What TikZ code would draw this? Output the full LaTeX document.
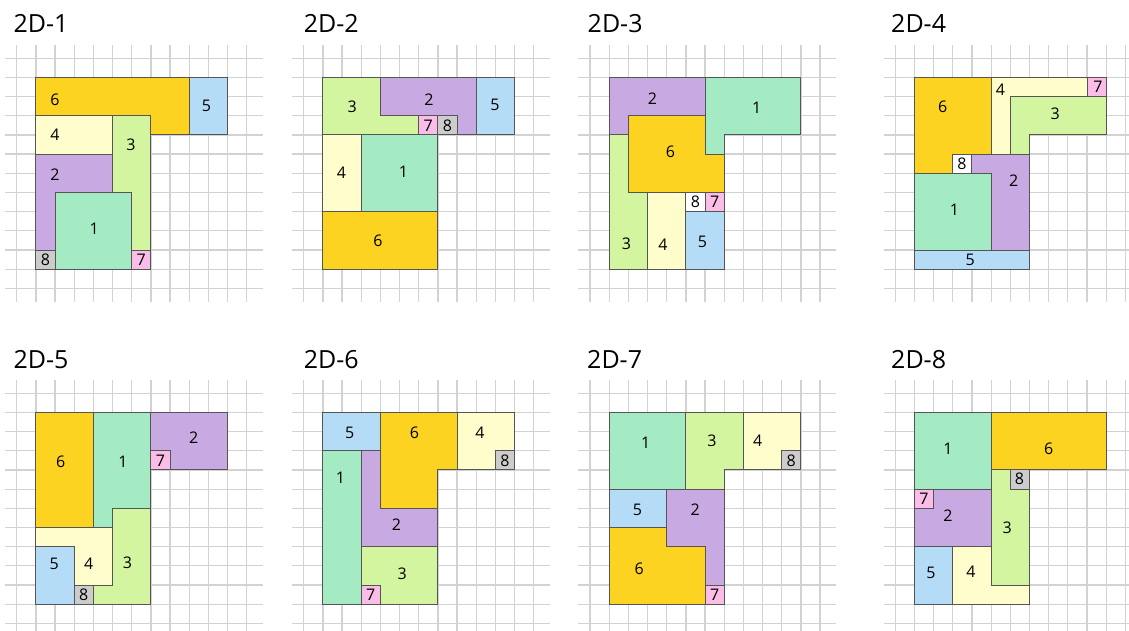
\documentclass[tikz,border=0pt]{standalone}
\usepackage{fontspec}
\setmainfont{Open Sans}

\definecolor{c1}{HTML}{A4EBC4}
\definecolor{c2}{HTML}{C9A9E2}
\definecolor{c3}{HTML}{D4F5A0}
\definecolor{c4}{HTML}{FFFDCC}
\definecolor{c5}{HTML}{B4DCF7}
\definecolor{c6}{HTML}{FCD321}
\definecolor{c7}{HTML}{FABDE8}
\definecolor{c8}{HTML}{CCCCCC}
\definecolor{edge}{HTML}{555555}
\definecolor{gridgray}{HTML}{D2D2D2}

\begin{document}
\begin{tikzpicture}[x=1pt, y=-1pt, line join=miter,
  gridln/.style={draw=gridgray, line width=1.3pt},
  pc/.style={draw=edge, line width=1pt},
  num/.style={font=\fontsize{16}{16}\selectfont, inner sep=0pt},
  ttl/.style={font=\fontsize{25}{25}\selectfont, anchor=base west, inner sep=0pt},
  cell/.style={x=19.17pt, y=-19.17pt}]
  \clip (0,0) rectangle (1129,631);
  % Titles.
  \node[ttl] (t1) at (13.3,33) {2D-1};
  \node[ttl] (t2) at (303.7,33) {2D-2};
  \node[ttl] (t3) at (587.5,33) {2D-3};
  \node[ttl] (t4) at (891,33) {2D-4};
  \node[ttl] (t5) at (13.3,368) {2D-5};
  \node[ttl] (t6) at (303.7,368) {2D-6};
  \node[ttl] (t7) at (587,368) {2D-7};
  \node[ttl] (t8) at (891,368) {2D-8};
  % Grids, 12x12 cells each.
  \foreach \gx/\gy in {16.7/58.3, 303.7/58.3, 590/58.3, 895.3/58.3,
                       16.7/393.3, 303.7/393.3, 590/393.3, 895.3/393.3} {
    \begin{scope}[shift={(\gx,\gy)}, cell]
      \foreach \k in {0,...,12} {
        \draw[gridln] (-0.61,\k) -- (12.83,\k);
        \draw[gridln] (\k,-0.68) -- (\k,12.73);
      }
    \end{scope}
  }
  % 2D-1.
  \begin{scope}[shift={(16.7,58.3)}, cell]
    \draw[pc, fill=c6] (1,1) -- (9,1) -- (9,4) -- (7,4) -- (7,3) -- (1,3) -- cycle;
    \draw[pc, fill=c5] (9,1) rectangle (11,4);
    \draw[pc, fill=c4] (1,3) rectangle (5,5);
    \draw[pc, fill=c3] (5,3) -- (7,3) -- (7,10) -- (6,10) -- (6,7) -- (5,7) -- cycle;
    \draw[pc, fill=c2] (1,5) -- (5,5) -- (5,7) -- (2,7) -- (2,10) -- (1,10) -- cycle;
    \draw[pc, fill=c1] (2,7) rectangle (6,11);
    \draw[pc, fill=c8] (1,10) rectangle (2,11);
    \draw[pc, fill=c7] (6,10) rectangle (7,11);
    \node[num] (a6) at (2,2.14) {6};
    \node[num] (a5) at (9.9,2.5) {5};
    \node[num] (a4) at (2,4) {4};
    \node[num] (a3) at (5.96,4.5) {3};
    \node[num] (a2) at (2,6.05) {2};
    \node[num] (a1) at (4.04,8.9) {1};
    \node[num] (a8) at (1.5,10.5) {8};
    \node[num] (a7) at (6.5,10.5) {7};
  \end{scope}
  % 2D-2.
  \begin{scope}[shift={(303.7,58.3)}, cell]
    \draw[pc, fill=c3] (1,1) -- (4,1) -- (4,3) -- (6,3) -- (6,4) -- (1,4) -- cycle;
    \draw[pc, fill=c2] (4,1) -- (9,1) -- (9,4) -- (8,4) -- (8,3) -- (4,3) -- cycle;
    \draw[pc, fill=c5] (9,1) rectangle (11,4);
    \draw[pc, fill=c7] (6,3) rectangle (7,4);
    \draw[pc, fill=c8] (7,3) rectangle (8,4);
    \draw[pc, fill=c4] (1,4) rectangle (3,8);
    \draw[pc, fill=c1] (3,4) rectangle (7,8);
    \draw[pc, fill=c6] (1,8) rectangle (7,11);
    \node[num] (b3) at (2.53,2.53) {3};
    \node[num] (b2) at (6.53,2.14) {2};
    \node[num] (b5) at (9.97,2.44) {5};
    \node[num] (b7) at (6.5,3.5) {7};
    \node[num] (b8) at (7.5,3.5) {8};
    \node[num] (b4) at (1.97,5.96) {4};
    \node[num] (b1) at (5.2,5.9) {1};
    \node[num] (b6) at (3.87,9.5) {6};
  \end{scope}
  % 2D-3.
  \begin{scope}[shift={(590,58.3)}, cell]
    \draw[pc, fill=c2] (1,1) -- (6,1) -- (6,3) -- (2,3) -- (2,4) -- (1,4) -- cycle;
    \draw[pc, fill=c1] (6,1) -- (11,1) -- (11,4) -- (7,4) -- (7,5) -- (6,5) -- cycle;
    \draw[pc, fill=c6] (2,3) -- (6,3) -- (6,5) -- (7,5) -- (7,7) -- (2,7) -- cycle;
    \draw[pc, fill=c3] (1,4) -- (2,4) -- (2,7) -- (3,7) -- (3,11) -- (1,11) -- cycle;
    \draw[pc, fill=c4] (3,7) rectangle (5,11);
    \draw[pc, fill=white] (5,7) rectangle (6,8);
    \draw[pc, fill=c7] (6,7) rectangle (7,8);
    \draw[pc, fill=c5] (5,8) rectangle (7,11);
    \node[num] (c2n) at (3.26,2.13) {2};
    \node[num] (c1n) at (8.7,2.56) {1};
    \node[num] (c6n) at (4.2,4.88) {6};
    \node[num] (c8n) at (5.5,7.5) {8};
    \node[num] (c7n) at (6.5,7.5) {7};
    \node[num] (c3n) at (1.9,9.67) {3};
    \node[num] (c4n) at (3.8,9.72) {4};
    \node[num] (c5n) at (5.87,9.6) {5};
  \end{scope}
  % 2D-4.
  \begin{scope}[shift={(895.3,58.3)}, cell]
    \draw[pc, fill=c6] (1,1) -- (5,1) -- (5,5) -- (3,5) -- (3,6) -- (1,6) -- cycle;
    \draw[pc, fill=c4] (5,1) -- (10,1) -- (10,2) -- (6,2) -- (6,5) -- (5,5) -- cycle;
    \draw[pc, fill=c7] (10,1) rectangle (11,2);
    \draw[pc, fill=c3] (6,2) -- (11,2) -- (11,4) -- (7,4) -- (7,5) -- (6,5) -- cycle;
    \draw[pc, fill=white] (3,5) rectangle (4,6);
    \draw[pc, fill=c2] (4,5) -- (7,5) -- (7,10) -- (5,10) -- (5,6) -- (4,6) -- cycle;
    \draw[pc, fill=c1] (1,6) rectangle (5,10);
    \draw[pc, fill=c5] (1,10) rectangle (7,11);
    \node[num] (d6) at (2.47,2.53) {6};
    \node[num] (d4) at (5.49,1.62) {4};
    \node[num] (d7) at (10.57,1.5) {7};
    \node[num] (d3) at (8.34,2.9) {3};
    \node[num] (d8) at (3.47,5.49) {8};
    \node[num] (d2) at (6.17,6.36) {2};
    \node[num] (d1) at (3.08,7.9) {1};
    \node[num] (d5) at (3.9,10.5) {5};
  \end{scope}
  % 2D-5.
  \begin{scope}[shift={(16.7,393.3)}, cell]
    \draw[pc, fill=c6] (1,1) rectangle (4,7);
    \draw[pc, fill=c1] (4,1) -- (7,1) -- (7,6) -- (5,6) -- (5,7) -- (4,7) -- cycle;
    \draw[pc, fill=c2] (7,1) rectangle (11,4);
    \draw[pc, fill=c7] (7,3) rectangle (8,4);
    \draw[pc, fill=c3] (5,6) -- (7,6) -- (7,11) -- (4,11) -- (4,10) -- (5,10) -- cycle;
    \draw[pc, fill=c4] (1,7) -- (5,7) -- (5,10) -- (3,10) -- (3,8) -- (1,8) -- cycle;
    \draw[pc, fill=c5] (1,8) rectangle (3,11);
    \draw[pc, fill=c8] (3,10) rectangle (4,11);
    \node[num] (e6) at (2.3,3.57) {6};
    \node[num] (e1) at (5.54,3.57) {1};
    \node[num] (e2) at (9.23,2.3) {2};
    \node[num] (e7) at (7.5,3.5) {7};
    \node[num] (e5) at (1.95,8.9) {5};
    \node[num] (e4) at (3.75,8.9) {4};
    \node[num] (e3) at (5.78,8.85) {3};
    \node[num] (e8) at (3.5,10.5) {8};
  \end{scope}
  % 2D-6.
  \begin{scope}[shift={(303.7,393.3)}, cell]
    \draw[pc, fill=c5] (1,1) rectangle (4,3);
    \draw[pc, fill=c6] (4,1) -- (8,1) -- (8,4) -- (7,4) -- (7,6) -- (4,6) -- cycle;
    \draw[pc, fill=c4] (8,1) rectangle (11,4);
    \draw[pc, fill=c8] (10,3) rectangle (11,4);
    \draw[pc, fill=c1] (1,3) rectangle (3,11);
    \draw[pc, fill=c2] (3,3) -- (4,3) -- (4,6) -- (7,6) -- (7,8) -- (3,8) -- cycle;
    \draw[pc, fill=c3] (3,8) rectangle (7,11);
    \draw[pc, fill=c7] (3,10) rectangle (4,11);
    \node[num] (f5) at (2.4,2.05) {5};
    \node[num] (f6) at (5.78,2.05) {6};
    \node[num] (f4) at (9.2,2.08) {4};
    \node[num] (f8) at (10.5,3.5) {8};
    \node[num] (f1) at (1.92,4.39) {1};
    \node[num] (f2) at (4.84,6.83) {2};
    \node[num] (f3) at (5.14,9.44) {3};
    \node[num] (f7) at (3.5,10.5) {7};
  \end{scope}
  % 2D-7.
  \begin{scope}[shift={(590,393.3)}, cell]
    \draw[pc, fill=c1] (1,1) rectangle (5,5);
    \draw[pc, fill=c3] (5,1) -- (8,1) -- (8,4) -- (7,4) -- (7,5) -- (5,5) -- cycle;
    \draw[pc, fill=c4] (8,1) rectangle (11,4);
    \draw[pc, fill=c8] (10,3) rectangle (11,4);
    \draw[pc, fill=c5] (1,5) rectangle (4,7);
    \draw[pc, fill=c2] (4,5) -- (7,5) -- (7,10) -- (6,10) -- (6,8) -- (4,8) -- cycle;
    \draw[pc, fill=c6] (1,7) -- (4,7) -- (4,8) -- (6,8) -- (6,11) -- (1,11) -- cycle;
    \draw[pc, fill=c7] (6,10) rectangle (7,11);
    \node[num] (g1) at (2.91,2.56) {1};
    \node[num] (g3) at (6.36,2.47) {3};
    \node[num] (g4) at (8.75,2.47) {4};
    \node[num] (g8) at (10.5,3.5) {8};
    \node[num] (g5) at (2.47,6.06) {5};
    \node[num] (g2) at (5.49,6.06) {2};
    \node[num] (g6) at (2.56,9.15) {6};
    \node[num] (g7) at (6.5,10.5) {7};
  \end{scope}
  % 2D-8.
  \begin{scope}[shift={(895.3,393.3)}, cell]
    \draw[pc, fill=c1] (1,1) rectangle (5,5);
    \draw[pc, fill=c6] (5,1) rectangle (11,4);
    \draw[pc, fill=c3] (5,4) -- (6,4) -- (6,5) -- (7,5) -- (7,10) -- (5,10) -- cycle;
    \draw[pc, fill=c8] (6,4) rectangle (7,5);
    \draw[pc, fill=c2] (1,5) rectangle (5,8);
    \draw[pc, fill=c7] (1,5) rectangle (2,6);
    \draw[pc, fill=c5] (1,8) rectangle (3,11);
    \draw[pc, fill=c4] (3,8) -- (5,8) -- (5,10) -- (7,10) -- (7,11) -- (3,11) -- cycle;
    \node[num] (h1) at (2.74,2.91) {1};
    \node[num] (h6) at (8,2.87) {6};
    \node[num] (h8) at (6.48,4.48) {8};
    \node[num] (h7) at (1.49,5.49) {7};
    \node[num] (h2) at (2.74,6.41) {2};
    \node[num] (h3) at (5.84,6.99) {3};
    \node[num] (h5) at (1.86,9.36) {5};
    \node[num] (h4) at (3.95,9.32) {4};
  \end{scope}
\end{tikzpicture}
\end{document}
